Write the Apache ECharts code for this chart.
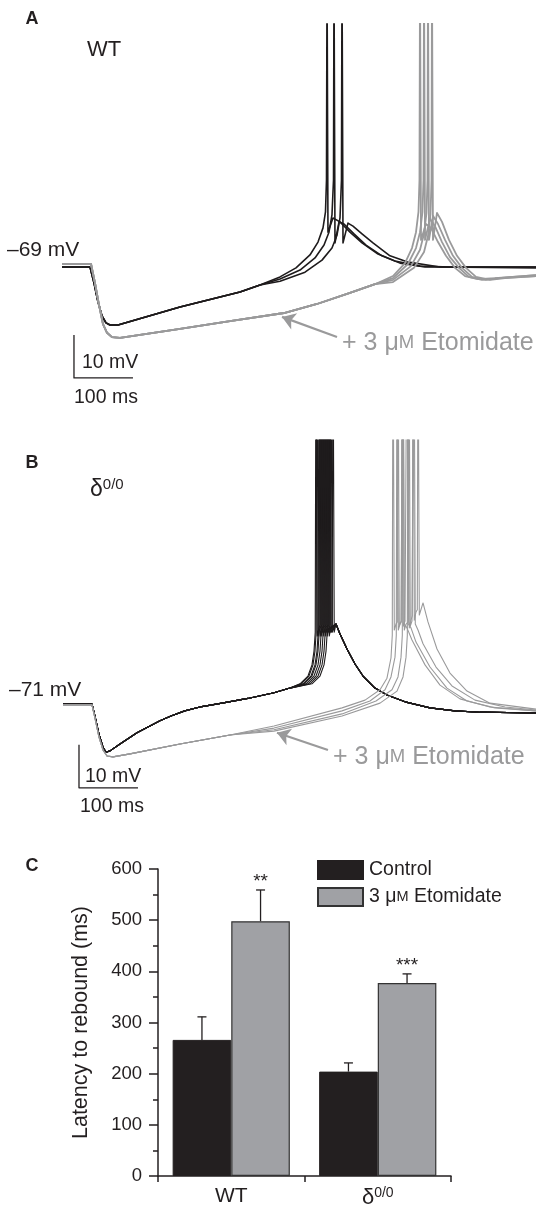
<!DOCTYPE html>
<html>
<head>
<meta charset="utf-8">
<script src="https://cdn.jsdelivr.net/npm/echarts/dist/echarts.min.js"></script>
<style>html,body{margin:0;padding:0;background:#fff}#c{width:536px;height:1209px}</style>
</head>
<body>
<div id="c"></div>
<script>
// ---------- Panel A (WT) traces: [time ms, membrane potential mV] ----------
const wtCtrlPre = [[0,-69],[47.5,-69],[54.2,-72.7],[61,-77.1],[67.8,-80.4],[74.6,-82],[81.4,-82.5],[94.9,-82.5],[200,-78.3],[301.7,-74.8],[335.6,-73.2]];
const wtCtrl1 = [[369.5,-71.3],[396.6,-69.2],[420.3,-66.2],[433.9,-63.2],[442.4,-59.9],[446.6,-56.2],[448.3,-48.8],[449.2,0],[450.3,0],[450.8,-60.9],[459.3,-57.6],[471.2,-58.5],[488.1,-60.9],[508.5,-63.4],[535.6,-66],[564.4,-67.6],[606.8,-68.8],[657.6,-69],[803.4,-69]];
const wtCtrl2 = [[369.5,-71.8],[403.4,-69.7],[428.8,-66.9],[444.1,-63.9],[452.5,-60.9],[457.6,-56.9],[460.2,-48.8],[461,0],[462.2,0],[462.7,-63.4],[469.5,-58.5],[478,-59],[494.9,-61.3],[515.3,-63.9],[542.4,-66.4],[572.9,-68.1],[615.3,-69],[803.4,-69]];
const wtCtrl3 = [[369.5,-72.3],[411.9,-70.2],[440.7,-67.4],[457.6,-64.6],[466.1,-61.6],[471.2,-57.6],[473.7,-48.8],[474.6,0],[475.8,0],[476.3,-63.4],[484.7,-58.8],[493.2,-59.5],[508.5,-61.3],[527.1,-63.4],[555.9,-66.4],[584.7,-67.8],[640.7,-69],[803.4,-69.2]];
const wtEtoPre = [[0,-68.3],[49.2,-68.3],[55.9,-72.7],[62.7,-77.8],[69.5,-82.3],[76.3,-84.3],[84.7,-85.3],[98.3,-85.5],[200,-83.4],[284.7,-81.6],[376.3,-79.7],[432.2,-77.6],[488.1,-75],[530.5,-73]];
const wtEto1 = [[561,-71.1],[581.4,-68.1],[593.2,-64.6],[600,-60.9],[604.2,-56.2],[605.9,-48.8],[606.8,0],[608,0],[608.5,-62.7],[616.9,-59],[625.4,-59.9],[637.3,-63.2],[650.8,-66.4],[666.1,-69.2],[683.1,-71.1],[705.1,-71.8],[733.9,-71.6],[803.4,-70.9]];
const wtEto2 = [[561,-71.6],[586.4,-68.3],[600,-64.6],[606.8,-60.9],[611,-56.2],[612.7,-48.8],[613.6,0],[614.7,0],[615.3,-62.7],[623.7,-57.8],[632.2,-59.5],[644.1,-63.2],[657.6,-66.7],[672.9,-69.2],[689.8,-71.3],[711.9,-72],[739,-71.6],[803.4,-70.9]];
const wtEto3 = [[561,-72],[591.5,-68.8],[606.8,-65],[613.6,-61.3],[617.8,-56.4],[619.5,-48.8],[620.3,0],[621.5,0],[622,-62.7],[628.8,-57.1],[637.3,-59],[649.2,-62.7],[662.7,-66.4],[678,-69.2],[694.9,-71.3],[718.6,-72],[742.4,-71.6],[803.4,-71.1]];
const wtEto4 = [[561,-72.5],[596.6,-69.2],[613.6,-65.5],[620.3,-61.8],[624.6,-56.7],[626.3,-48.8],[627.1,0],[628.3,0],[628.8,-62.7],[635.6,-56.4],[644.1,-58.5],[655.9,-62.7],[669.5,-66.4],[684.7,-69.2],[701.7,-71.3],[725.4,-72],[750.8,-71.6],[803.4,-71.1]];

// ---------- Panel B (delta 0/0) traces ----------
const dCtrlPre = [[1.7,-71],[50.8,-71],[55.9,-73.8],[62.7,-78],[69.5,-81],[74.6,-82.2],[81.4,-81.9],[98.3,-80.3],[127.1,-77.7],[149,-76.1],[166,-74.9],[184.7,-73.8],[208,-72.6],[237,-71.6],[271.2,-70.8],[315,-69.7],[359.3,-68.4],[386.4,-67.3]];
const dCtrlPost = [[464.4,-52.4],[471.2,-54.7],[483.1,-58.2],[496.6,-61.7],[510.2,-64.5],[530.5,-67.3],[550.8,-68.9],[581.4,-70.5],[623.7,-71.9],[666.1,-72.6],[708.5,-72.9],[803.4,-73.1]];
const dCtrl1 = [[403.4,-66.3],[416.9,-64.5],[423.7,-61.9],[427.1,-58.7],[429.2,-54.3],[430.5,23],[431.7,23],[432.5,-55.2],[435.6,-53.3],[437.6,-52.6],[439,23],[440.2,23],[441,-54.3]];
const dCtrl2 = [[405.1,-66.3],[418.6,-64.5],[425.4,-61.9],[428.8,-58.7],[430.8,-54.3],[432.2,23],[433.4,23],[434.2,-55.2],[437.3,-53.3],[441,-52.6],[442.4,23],[443.6,23],[444.4,-54.3]];
const dCtrl3 = [[408.5,-66.3],[422,-64.5],[428.8,-61.9],[432.2,-58.7],[434.2,-54.3],[435.6,23],[436.8,23],[437.6,-55.2],[440.7,-53.3],[444.4,-52.6],[445.8,23],[447,23],[447.8,-54.3]];
const dCtrl4 = [[410.2,-66.3],[423.7,-64.5],[430.5,-61.9],[433.9,-58.7],[435.9,-54.3],[437.3,23],[438.5,23],[439.3,-55.2],[442.4,-53.3],[447.8,-52.6],[449.2,23],[450.3,23],[451.2,-54.3]];
const dCtrl5 = [[413.6,-66.3],[427.1,-64.5],[433.9,-61.9],[437.3,-58.7],[439.3,-54.3],[440.7,23],[441.9,23],[442.7,-55.2],[445.8,-53.3],[451.2,-52.6],[452.5,23],[453.7,23],[454.6,-54.3]];
const dCtrl6 = [[416.9,-66.3],[430.5,-64.5],[437.3,-61.9],[440.7,-58.7],[442.7,-54.3],[444.1,23],[445.3,23],[446.1,-55.2],[449.2,-53.3],[452.9,-52.6],[454.2,23],[455.4,23],[456.3,-54.3]];
const dCtrl7 = [[420.3,-66.3],[433.9,-64.5],[440.7,-61.9],[444.1,-58.7],[446.1,-54.3],[447.5,23],[448.6,23],[449.5,-55.2],[452.5,-53.3],[454.6,-52.6],[455.9,23],[457.1,23],[458,-54.3]];
const dCtrl8 = [[423.7,-66.3],[437.3,-64.5],[444.1,-61.9],[447.5,-58.7],[449.5,-54.3],[450.8,23],[452,23],[452.9,-55.2],[455.9,-53.3],[458,-52.6],[459.3,23],[460.5,23],[461.4,-54.3]];
const dEtoPre = [[1.7,-71.2],[50.8,-71.2],[55.9,-74.3],[62.7,-78.7],[69.5,-81.7],[76.3,-83.1],[86.4,-83.3],[115.3,-82.6],[200,-80.3],[284.7,-78.2]];
const dEto1 = [[359.3,-76.1],[474.6,-71.9],[513.6,-70.1],[539,-67.7],[550.8,-65],[557.6,-60.3],[559.8,-55],[561,23],[562.2,23],[563.2,-53.8],[566.1,-52.4],[568.3,-51.9],[569.5,23],[570.7,23],[571.7,-52.9],[574.6,-51.7],[576.8,-51.5],[578,23],[579.2,23],[580.2,-52.4],[584.7,-53.3],[593.2,-56.1],[615.3,-61.9],[640.7,-66.6],[674.6,-69.8],[725.4,-71.7],[803.4,-72.6]];
const dEto2 = [[359.3,-76.6],[474.6,-72.6],[522,-70.3],[547.5,-67.7],[557.6,-64.7],[564.4,-60.1],[566.6,-55],[567.8,23],[569,23],[570,-53.8],[572.9,-52.4],[575.1,-51.9],[576.3,23],[577.5,23],[578.5,-52.9],[581.4,-51.7],[583.6,-51.5],[584.7,23],[585.9,23],[586.9,-52.4],[591.5,-53.3],[600,-56.6],[623.7,-62.4],[652.5,-67.3],[686.4,-70.3],[733.9,-71.9],[803.4,-72.6]];
const dEto3 = [[359.3,-77],[474.6,-73.3],[532.2,-70.3],[559.3,-67.7],[569.5,-64.7],[574.6,-60.1],[576.8,-55],[578,23],[579.2,23],[580.2,-53.8],[583.1,-52.4],[586.9,-51.9],[588.1,23],[589.3,23],[590.3,-52.9],[593.2,-51.7],[595.4,-51.5],[596.6,23],[597.8,23],[598.8,-52.4],[603.4,-53.8],[611.9,-57],[633.9,-62.4],[661,-66.8],[700,-70.1],[750.8,-71.7],[803.4,-72.4]];
const dEto4 = [[359.3,-77.3],[474.6,-73.8],[539,-70.8],[567.8,-68],[578,-64.7],[583.1,-60.1],[585.3,-55],[586.4,23],[587.6,23],[588.6,-53.3],[591.5,-51.5],[593.7,-50.5],[594.9,23],[596.1,23],[597.1,-51.5],[600,-49.6],[602.2,-49.1],[603.4,23],[604.6,23],[605.6,-50.3],[611.9,-47.5],[620.3,-51.9],[635.6,-58.2],[657.6,-63.8],[686.4,-68],[725.4,-70.8],[803.4,-72.2]];

// scale bars (10 mV, 100 ms) and arrows [tail, head]
const scaleBarA = [[20.3,-84.8],[20.3,-94.8],[120.3,-94.8]];
const scaleBarB = [[28.8,-80.5],[28.8,-90.5],[128.8,-90.5]];
const arrowA = [[466.1,-85.3],[372.9,-80.6]];
const arrowB = [[450.8,-81.7],[364.4,-77.7]];

// ---------- Panel C bar chart ----------
const categories = ['WT', 'δ0/0'];
const controlMean = [266, 204];
const controlSem = [45, 17];
const etomMean = [498, 377];
const etomSem = [61, 18];
const stars = ['**', '***'];
const yTicks = [0, 100, 200, 300, 400, 500, 600];

const FONT = "'Liberation Sans', Arial, Helvetica, sans-serif";
const INK = '#231f20';
const BLACK = '#1e1b1c';
const GRAY = '#9a9a9b';

const chart = echarts.init(document.getElementById('c'), null, {renderer: 'canvas'});

function trace(data, g, color, width, z) {
  return {type: 'line', xAxisIndex: g, yAxisIndex: g, data: data, symbol: 'none', showSymbol: false,
    clip: true, silent: true, animation: false, z: z || 2,
    lineStyle: {color: color, width: width, join: 'round'}};
}

function errRender(side) {
  return function (params, api) {
    const i = api.value(0), m = api.value(1), e = api.value(2);
    const band = api.size([1, 0])[0];
    const bw = band * 0.8 / 2;
    const x = api.coord([i, 0])[0] + side * bw / 2;
    const y0 = api.coord([i, m])[1];
    const y1 = api.coord([i, m + e])[1];
    const st = {stroke: INK, lineWidth: 1.3};
    const children = [
      {type: 'line', shape: {x1: x, y1: y0, x2: x, y2: y1}, style: st},
      {type: 'line', shape: {x1: x - 4.5, y1: y1, x2: x + 4.5, y2: y1}, style: st}
    ];
    if (side > 0) {
      children.push({type: 'text', style: {text: stars[i], x: x, y: y1 - 8, align: 'center', verticalAlign: 'middle',
        font: '19px ' + FONT, fill: INK}});
    }
    return {type: 'group', children: children};
  };
}

const series = [];
// Panel A
[wtCtrl1, wtCtrl2, wtCtrl3].forEach(t => series.push(trace(wtCtrlPre.concat(t), 0, BLACK, 1.6, 2)));
[wtEto1, wtEto2, wtEto3, wtEto4].forEach(t => series.push(trace(wtEtoPre.concat(t), 0, GRAY, 1.8, 3)));
series.push(Object.assign(trace(scaleBarA, 0, INK, 1.3, 4), {
  markLine: {silent: true, symbol: ['none', 'arrow'], symbolSize: 13, label: {show: false},
    lineStyle: {color: GRAY, width: 2.2, type: 'solid'},
    data: [[{coord: arrowA[0]}, {coord: arrowA[1]}]]}
}));
// Panel B
[dCtrl1, dCtrl2, dCtrl3, dCtrl4, dCtrl5, dCtrl6, dCtrl7, dCtrl8].forEach(t => series.push(trace(dCtrlPre.concat(t, dCtrlPost), 1, BLACK, 1.1, 2)));
[dEto1, dEto2, dEto3, dEto4].forEach(t => series.push(trace(dEtoPre.concat(t), 1, GRAY, 1.1, 3)));
series.push(Object.assign(trace(scaleBarB, 1, INK, 1.3, 4), {
  markLine: {silent: true, symbol: ['none', 'arrow'], symbolSize: 13, label: {show: false},
    lineStyle: {color: GRAY, width: 2.2, type: 'solid'},
    data: [[{coord: arrowB[0]}, {coord: arrowB[1]}]]}
}));
// Panel C
series.push({type: 'bar', name: 'Control', xAxisIndex: 2, yAxisIndex: 2, data: controlMean,
  barGap: '0%', barCategoryGap: '20%', silent: true,
  itemStyle: {color: INK, borderColor: INK, borderWidth: 1}});
series.push({type: 'bar', name: '3 μM Etomidate', xAxisIndex: 2, yAxisIndex: 2, data: etomMean,
  barGap: '0%', barCategoryGap: '20%', silent: true,
  itemStyle: {color: '#a0a1a5', borderColor: '#333333', borderWidth: 1.2}});
series.push({type: 'custom', xAxisIndex: 2, yAxisIndex: 2, silent: true, z: 5,
  data: controlMean.map((v, i) => [i, v, controlSem[i]]), renderItem: errRender(-1)});
series.push({type: 'custom', xAxisIndex: 2, yAxisIndex: 2, silent: true, z: 5,
  data: etomMean.map((v, i) => [i, v, etomSem[i]]), renderItem: errRender(1)});

function txt(text, x, y, size, opts) {
  return Object.assign({type: 'text', x: x, y: y, silent: true,
    style: Object.assign({text: text, font: size + 'px ' + FONT, fill: INK, verticalAlign: 'middle', align: 'left'}, opts || {})});
}
const etoRich = {sc: {fontSize: 18.5, fontFamily: FONT, fill: GRAY, color: GRAY}};

const option = {
  animation: false,
  backgroundColor: '#ffffff',
  textStyle: {fontFamily: FONT},
  grid: [
    {left: 62, top: 24, width: 474, height: 359.1},
    {left: 62, top: 440, width: 474, height: 354.3},
    {left: 158, top: 869, width: 293, height: 309}
  ],
  xAxis: [
    {gridIndex: 0, type: 'value', min: 0, max: 803.4, show: false},
    {gridIndex: 1, type: 'value', min: 0, max: 803.4, show: false},
    {gridIndex: 2, type: 'category', data: categories,
      axisLine: {lineStyle: {color: INK, width: 1.5}},
      axisTick: {show: true, length: 6, lineStyle: {color: INK, width: 1.5}},
      axisLabel: {margin: 10, color: INK, fontFamily: FONT, fontSize: 21,
        formatter: v => v === 'WT' ? '{n|WT}' : '{d|δ}{s|0/0}',
        rich: {n: {fontSize: 21, fontFamily: FONT, color: INK},
               d: {fontSize: 22, fontFamily: FONT, color: INK},
               s: {fontSize: 14, fontFamily: FONT, color: INK, padding: [0, 0, 10, 0]}}}}
  ],
  yAxis: [
    {gridIndex: 0, type: 'value', min: -96, max: -12.49, show: false},
    {gridIndex: 1, type: 'value', min: -92, max: -9.6, show: false},
    {gridIndex: 2, type: 'value', min: yTicks[0], max: yTicks[yTicks.length - 1], interval: 100,
      name: 'Latency to rebound (ms)', nameLocation: 'middle', nameGap: 66, nameRotate: 90,
      nameTextStyle: {fontSize: 21.5, color: INK, fontFamily: FONT},
      axisLine: {show: true, lineStyle: {color: INK, width: 1.5}},
      axisTick: {show: true, length: 9, lineStyle: {color: INK, width: 1.5}},
      minorTick: {show: true, splitNumber: 2, length: 5, lineStyle: {color: INK, width: 1.5}},
      splitLine: {show: false},
      axisLabel: {margin: 16, color: INK, fontSize: 18.5, fontFamily: FONT}}
  ],
  legend: {left: 312, top: 855, orient: 'vertical', itemWidth: 45, itemHeight: 18, itemGap: 7,
    icon: 'rect', selectedMode: false, data: ['Control', '3 μM Etomidate'],
    formatter: n => n === 'Control' ? n : '3 μ{sc|M} Etomidate',
    textStyle: {fontSize: 19.5, color: INK, fontFamily: FONT, padding: [0, 0, 0, 1],
      rich: {sc: {fontSize: 14.5, color: INK, fontFamily: FONT}}}},
  graphic: [
    txt('A', 32, 19, 18, {font: 'bold 18px ' + FONT, align: 'center'}),
    txt('WT', 87, 50, 22),
    txt('–69 mV', 7, 250, 21),
    txt('10 mV', 82, 363, 19.5),
    txt('100 ms', 74, 398, 19.5),
    txt('+ 3 μ{sc|M} Etomidate', 342, 343, 25, {fill: GRAY, rich: etoRich}),
    txt('B', 32, 463, 18, {font: 'bold 18px ' + FONT, align: 'center'}),
    txt('{d|δ}{s|0/0}', 90, 490, 23, {rich: {d: {fontSize: 23, fontFamily: FONT, fill: INK}, s: {fontSize: 15, fontFamily: FONT, fill: INK, padding: [0, 0, 10, 0]}}}),
    txt('–71 mV', 9, 690, 21),
    txt('10 mV', 85, 777, 19.5),
    txt('100 ms', 80, 807, 19.5),
    txt('+ 3 μ{sc|M} Etomidate', 333, 757, 25, {fill: GRAY, rich: etoRich}),
    txt('C', 32, 866, 18, {font: 'bold 18px ' + FONT, align: 'center'})
  ],
  series: series
};
chart.setOption(option);
</script>
</body>
</html>
